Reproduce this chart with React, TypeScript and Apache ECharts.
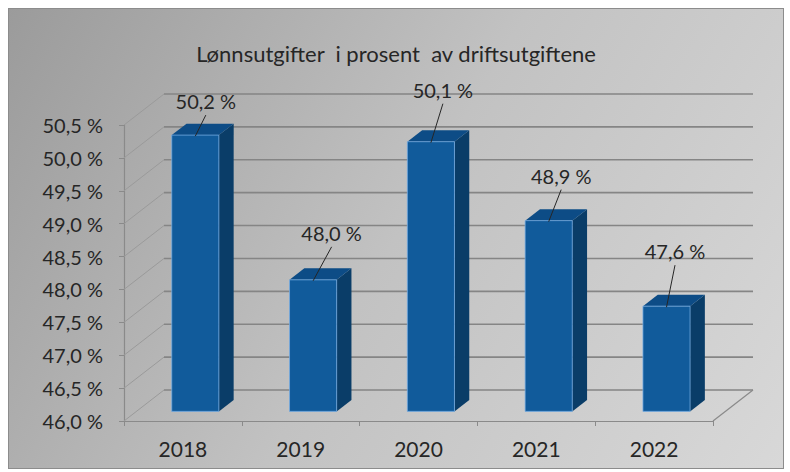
import { useEffect, useRef } from 'react';
import * as echarts from 'echarts';

const titleText = 'Lønnsutgifter  i prosent  av driftsutgiftene';
const categories = ['2018', '2019', '2020', '2021', '2022'];
const values = [50.2, 48.0, 50.1, 48.9, 47.6];
const yMin = 46;
const yMax = 50.5;
const yStep = 0.5;
const yTicks = [46, 46.5, 47, 47.5, 48, 48.5, 49, 49.5, 50, 50.5];

const fmt = (v: number) => v.toFixed(1).replace('.', ',') + ' %';

// layout constants (3D look)
const DEPTH_X = 40;
const DEPTH_Y = -31;
const T0 = 0.31;
const T1 = 0.68;
const BAR_FRAC = 0.4;
const labelShift: [number, number][] = [
  [10.5, -34],
  [18.5, -47],
  [12, -52],
  [12.5, -45],
  [8.5, -55],
];
const FONT = 'Lato, "Open Sans", sans-serif';

export default function App() {
  const ref = useRef<HTMLDivElement>(null);
  useEffect(() => {
    if (!ref.current) return;
    const chart = echarts.init(ref.current, undefined, { renderer: 'svg' });
    const option: any = {
      animation: false,
      textStyle: { fontFamily: FONT },
      title: {
        text: titleText,
        left: 'center',
        top: 28,
        textStyle: { fontSize: 22, fontWeight: 'normal', color: '#262626', fontFamily: FONT },
      },
      grid: { left: 115, top: 116, right: 70, bottom: 47, containLabel: false },
      xAxis: {
        type: 'category',
        data: categories,
        boundaryGap: true,
        axisLine: { show: true, lineStyle: { color: '#8a8a8a', width: 1.2 } },
        axisTick: { show: true, length: 5, interval: 0, lineStyle: { color: '#8a8a8a' } },
        axisLabel: { fontSize: 21, color: '#262626', margin: 17, fontFamily: FONT },
        splitLine: { show: false },
      },
      yAxis: {
        type: 'value',
        min: yMin,
        max: yMax,
        interval: yStep,
        axisLine: { show: true, lineStyle: { color: '#8a8a8a', width: 1.2 } },
        axisTick: { show: true, length: 5, lineStyle: { color: '#8a8a8a' } },
        axisLabel: { fontSize: 20, color: '#262626', margin: 21, formatter: (v: number) => fmt(v), fontFamily: FONT },
        splitLine: { show: false },
      },
      series: [
        {
          type: 'custom',
          z: 1,
          silent: true,
          data: yTicks.map((v) => [0, v]),
          renderItem: (params: any, api: any) => {
            const v = api.value(1);
            const p = api.coord([0, v]);
            const cs = params.coordSys;
            const x0 = cs.x;
            const xR = cs.x + cs.width;
            const y = p[1];
            const children: any[] = [
              {
                type: 'line',
                shape: { x1: x0, y1: y, x2: x0 + DEPTH_X, y2: y + DEPTH_Y },
                style: { stroke: '#9a9a9a', lineWidth: 1 },
              },
              {
                type: 'line',
                shape: { x1: x0 + DEPTH_X, y1: y + DEPTH_Y, x2: xR + DEPTH_X, y2: y + DEPTH_Y },
                style: { stroke: '#858585', lineWidth: 1.6 },
              },
            ];
            if (v === yMin) {
              children.push({
                type: 'line',
                shape: { x1: xR, y1: y, x2: xR + DEPTH_X, y2: y + DEPTH_Y },
                style: { stroke: '#8a8a8a', lineWidth: 1.2 },
              });
            }
            return { type: 'group', children };
          },
        },
        {
          type: 'custom',
          z: 3,
          data: values.map((v, i) => [i, v]),
          renderItem: (params: any, api: any) => {
            const i = api.value(0);
            const v = api.value(1);
            const top = api.coord([i, v]);
            const base = api.coord([i, yMin]);
            const band = api.size([1, 0])[0];
            const w = band * BAR_FRAC;
            const fx = top[0] - w / 2 + T0 * DEPTH_X;
            const fx1 = fx + w;
            const yT = top[1] + T0 * DEPTH_Y;
            const yB = base[1] + T0 * DEPTH_Y;
            const ox = (T1 - T0) * DEPTH_X;
            const oy = (T1 - T0) * DEPTH_Y;
            const cx = fx + w / 2;
            const sh = labelShift[params.dataIndex] || [10, -45];
            const lx = cx + sh[0];
            const ly = yT + sh[1];
            return {
              type: 'group',
              children: [
                {
                  type: 'polygon',
                  shape: { points: [[fx1, yT], [fx1 + ox, yT + oy], [fx1 + ox, yB + oy], [fx1, yB]] },
                  style: { fill: '#0a3d68' },
                },
                {
                  type: 'polygon',
                  shape: { points: [[fx, yT], [fx1, yT], [fx1 + ox, yT + oy], [fx + ox, yT + oy]] },
                  style: { fill: '#0d4c86' },
                },
                {
                  type: 'rect',
                  shape: { x: fx, y: yT, width: w, height: yB - yT },
                  style: { fill: '#115b9b', stroke: 'rgba(120,175,230,0.75)', lineWidth: 1 },
                },
                {
                  type: 'line',
                  shape: { x1: cx, y1: yT + 1, x2: lx, y2: ly + 14 },
                  style: { stroke: '#262626', lineWidth: 1 },
                },
                {
                  type: 'text',
                  style: {
                    text: fmt(v),
                    x: lx,
                    y: ly,
                    align: 'center',
                    verticalAlign: 'middle',
                    fill: '#262626',
                    fontSize: 20,
                    fontFamily: FONT,
                  },
                },
              ],
            };
          },
        },
      ],
    };
    chart.setOption(option);
    return () => chart.dispose();
  }, []);
  return (
    <div
      ref={ref}
      style={{
        position: 'absolute',
        left: 8,
        top: 8,
        width: 776,
        height: 461,
        boxSizing: 'border-box',
        border: '1px solid #8c8c8c',
        background: 'linear-gradient(120deg, #9b9b9b 0%, #c2c2c2 50%, #d8d8d8 100%)',
      }}
    />
  );
}
